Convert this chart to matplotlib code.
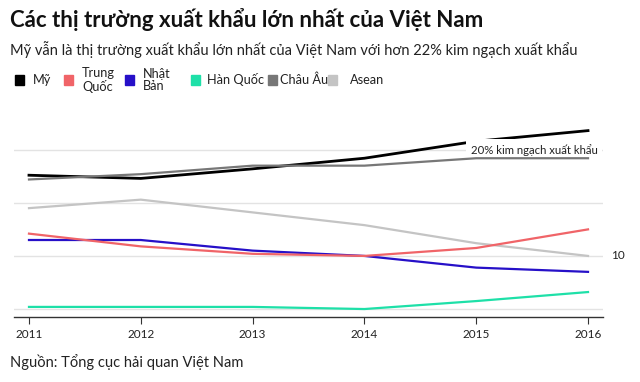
import matplotlib
matplotlib.use('Agg')
import matplotlib.pyplot as plt
from matplotlib.patches import Rectangle

years = [2011, 2012, 2013, 2014, 2015, 2016]
my = [17.6, 17.3, 18.2, 19.2, 20.8, 21.8]
trung_quoc = [12.1, 10.9, 10.2, 10.0, 10.75, 12.5]
nhat_ban = [11.5, 11.5, 10.5, 10.0, 8.9, 8.5]
han_quoc = [5.2, 5.2, 5.2, 5.0, 5.75, 6.6]
chau_au = [17.2, 17.7, 18.5, 18.5, 19.2, 19.2]
asean = [14.5, 15.3, 14.1, 12.9, 11.2, 10.0]

names = ['Mỹ', 'Trung\nQuốc', 'Nhật\nBản', 'Hàn Quốc', 'Châu Âu', 'Asean']
colors = ['#000000', '#f06468', '#2610c8', '#1ee0a8', '#777777', '#c4c4c4']

plt.rcParams['font.family'] = ['Lato', 'DejaVu Sans']

fig = plt.figure(figsize=(6.4, 3.82), dpi=100)
ax = fig.add_axes([14 / 640, 65 / 382, 589 / 640, 197 / 382])

for v in [5, 10, 15, 20]:
    ax.axhline(v, color='#e3e3e3', linewidth=1, zorder=0)

# black line sits under the annotation box, the others above it
series = [asean, chau_au, han_quoc, nhat_ban, trung_quoc, my]
order = [5, 4, 3, 2, 1, 0]
for s, i in zip(series, order):
    lw = 2.0 if i == 0 else 1.6
    ax.plot(years, s, color=colors[i], linewidth=lw, zorder=3 if i == 0 else 6)

ax.set_xlim(2010.866, 2016.134)
ax.set_ylim(4.25, 22.8)
ax.set_xticks(years)
ax.set_xticklabels([str(y) for y in years], fontsize=8.5, color='#222222')
ax.set_yticks([])
for side in ['top', 'right', 'left']:
    ax.spines[side].set_visible(False)
ax.spines['bottom'].set_color('#333333')
ax.spines['bottom'].set_linewidth(1)
ax.tick_params(axis='x', length=5, color='#333333', pad=4)

ax.text(2016.21, 10, '10', fontsize=8.5, va='center', ha='left', color='#222222', clip_on=False)
ax.text(2014.95, 20, '20% kim ngạch xuất khẩu', fontsize=8.2, va='center', ha='left', color='#222222',
        bbox=dict(facecolor='white', edgecolor='none', pad=3.5), zorder=5, clip_on=False)

fig.text(10 / 640, 1 - 20 / 382, 'Các thị trường xuất khẩu lớn nhất của Việt Nam',
         fontsize=16, fontweight='bold', va='center', ha='left', color='#111111')
fig.text(10 / 640, 1 - 50 / 382, 'Mỹ vẫn là thị trường xuất khẩu lớn nhất của Việt Nam với hơn 22% kim ngạch xuất khẩu',
         fontsize=10.5, va='center', ha='left', color='#222222')
fig.text(10 / 640, 1 - 362 / 382, 'Nguồn: Tổng cục hải quan Việt Nam',
         fontsize=10.5, va='center', ha='left', color='#222222')

sq_x = [15, 64, 125, 191, 268, 328]
tx_x = [33, 82, 143, 207, 280, 350]
for i, name in enumerate(names):
    fig.patches.append(Rectangle((sq_x[i] / 640, 1 - 85 / 382), 9 / 640, 10 / 382,
                                 transform=fig.transFigure, color=colors[i]))
    fig.text(tx_x[i] / 640, 1 - 80 / 382, name, fontsize=9.2, va='center', ha='left',
             color='#222222', linespacing=1.1)

fig.savefig('out.png', dpi=100)
